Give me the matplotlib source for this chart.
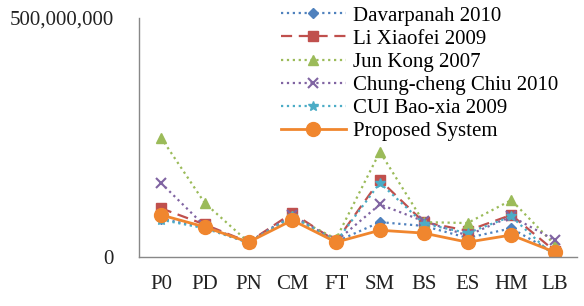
import matplotlib
matplotlib.use("Agg")
import matplotlib.pyplot as plt
from matplotlib.ticker import FuncFormatter

categories = ["P0", "PD", "PN", "CM", "FT", "SM", "BS", "ES", "HM", "LB"]

davarpanah = [80e6, 62e6, 30e6, 85e6, 32e6, 73e6, 65e6, 40e6, 60e6, 8e6]
li_xiaofei = [102e6, 68e6, 31e6, 92e6, 33e6, 161e6, 73e6, 55e6, 88e6, 12e6]
jun_kong = [250e6, 113e6, 31e6, 85e6, 38e6, 220e6, 73e6, 71e6, 119e6, 25e6]
chiu = [155e6, 65e6, 31e6, 88e6, 33e6, 110e6, 75e6, 45e6, 85e6, 35e6]
cui = [78e6, 60e6, 30e6, 85e6, 32e6, 155e6, 70e6, 50e6, 85e6, 0]
proposed = [88e6, 63e6, 31e6, 77e6, 31e6, 56e6, 50e6, 31e6, 46e6, 10e6]

series = [
    ("Davarpanah 2010", davarpanah),
    ("Li Xiaofei 2009", li_xiaofei),
    ("Jun Kong 2007", jun_kong),
    ("Chung-cheng Chiu 2010", chiu),
    ("CUI Bao-xia 2009", cui),
    ("Proposed System", proposed),
]

styles = {
    "Davarpanah 2010": dict(color="#4F81BD", ls=":", marker="D", ms=5),
    "Li Xiaofei 2009": dict(color="#C0504D", ls=(0, (5, 3)), marker="s", ms=7),
    "Jun Kong 2007": dict(color="#9BBB59", ls=":", marker="^", ms=7),
    "Chung-cheng Chiu 2010": dict(color="#8064A2", ls=":", marker="x", ms=7, mew=1.5),
    "CUI Bao-xia 2009": dict(color="#4BACC6", ls=":", marker="*", ms=7),
    "Proposed System": dict(color="#F0862E", ls="-", marker="o", ms=10, lw=2),
}

plt.rcParams["font.family"] = ["Liberation Serif", "DejaVu Serif"]

fig = plt.figure(figsize=(5.84, 3.06), dpi=100)
ax = fig.add_axes([139 / 584, (306 - 257) / 306, (577 - 139) / 584, (257 - 18) / 306])

x = list(range(len(categories)))
for name, vals in series:
    st = dict(styles[name])
    lw = st.pop("lw", 1.6)
    ax.plot(x, vals, label=name, linewidth=lw, **st)

ax.set_xlim(-0.5, 9.5)
ax.set_ylim(0, 500e6)
ax.set_yticks([0, 500e6])
ax.yaxis.set_major_formatter(FuncFormatter(lambda v, p: f"{int(v):,}"))
ax.set_xticks(x)
ax.set_xticklabels(categories)
ax.tick_params(axis="both", length=0, labelsize=15, colors="#222222")
ax.tick_params(axis="x", pad=13)
ax.tick_params(axis="y", pad=18)
for s in ["top", "right"]:
    ax.spines[s].set_visible(False)
for s in ["left", "bottom"]:
    ax.spines[s].set_color("#888888")
    ax.spines[s].set_linewidth(1)

ax.legend(loc="upper left", bbox_to_anchor=(0.305, 1.085), frameon=False,
          fontsize=15, handlelength=3.1, handletextpad=0.35, labelspacing=0.17,
          borderaxespad=0)

fig.savefig("out.png", dpi=100, facecolor="white")
